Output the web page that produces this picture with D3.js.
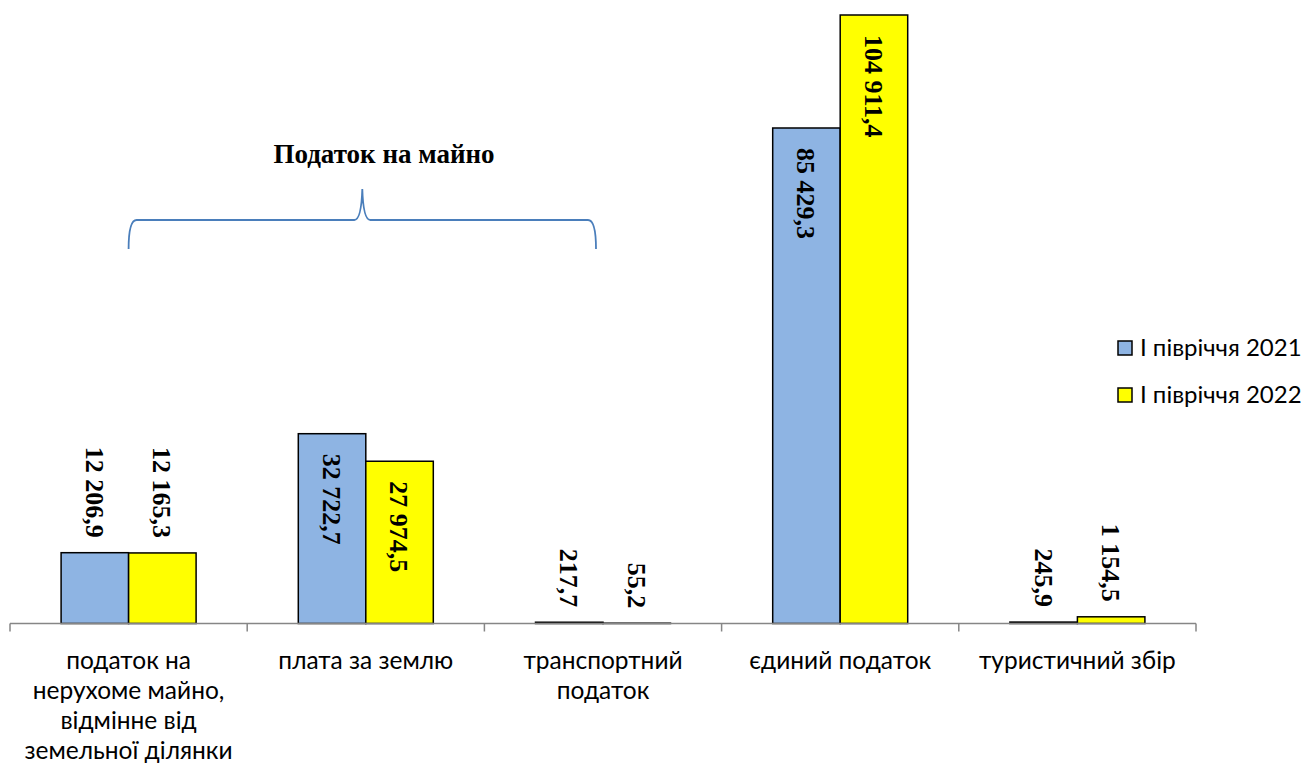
<!DOCTYPE html>
<html>
<head>
<meta charset="utf-8">
<script src="https://cdn.jsdelivr.net/npm/d3@7"></script>
<style>
  html, body { margin: 0; padding: 0; background: #fff; }
  svg { display: block; }
</style>
</head>
<body>
<svg id="chart" width="1316" height="766"></svg>
<script>
// Local budget revenues, thousand UAH
const categories = [
  ["податок на", "нерухоме майно,", "відмінне від", "земельної ділянки"],
  ["плата за землю"],
  ["транспортний", "податок"],
  ["єдиний податок"],
  ["туристичний збір"]
];
const seriesNames = ["І півріччя 2021", "І півріччя 2022"];
const values2021 = [12206.9, 32722.7, 217.7, 85429.3, 245.9];
const values2022 = [12165.3, 27974.5, 55.2, 104911.4, 1154.5];
const labels2021 = ["12 206,9", "32 722,7", "217,7", "85 429,3", "245,9"];
const labels2022 = ["12 165,3", "27 974,5", "55,2", "104 911,4", "1 154,5"];
const groupTitle = "Податок на майно";

const colors = ["#8EB4E3", "#FFFF00"];

const svg = d3.select("#chart");
const plot = { left: 10, right: 1196, top: 15, bottom: 623.5 };

const catKeys = categories.map((c, i) => i);
const x0 = d3.scaleBand().domain(catKeys).range([plot.left, plot.right]).paddingInner(0).paddingOuter(0);
const x1 = d3.scaleBand().domain([0, 1]).range([0, x0.bandwidth()]).paddingInner(0).paddingOuter(0.757);
const y = d3.scaleLinear().domain([0, 104911.4]).range([plot.bottom, plot.top]);

const rows = catKeys.map(i => ({
  i,
  bars: [
    { s: 0, v: values2021[i], label: labels2021[i] },
    { s: 1, v: values2022[i], label: labels2022[i] }
  ]
}));

// Bars
const groups = svg.append("g").selectAll("g").data(rows).join("g")
  .attr("transform", d => `translate(${x0(d.i)},0)`);

groups.selectAll("rect").data(d => d.bars).join("rect")
  .attr("x", d => x1(d.s))
  .attr("y", d => y(d.v))
  .attr("width", x1.bandwidth())
  .attr("height", d => plot.bottom - y(d.v))
  .attr("fill", d => colors[d.s])
  .attr("stroke", "#000")
  .attr("stroke-width", 1.5);

// Category axis
const axisG = svg.append("g").attr("transform", `translate(0,${plot.bottom})`);
axisG.append("line")
  .attr("x1", plot.left).attr("x2", plot.right)
  .attr("y1", 0).attr("y2", 0)
  .attr("stroke", "#868686").attr("stroke-width", 1.5);
const tickPos = catKeys.map(i => x0(i)).concat([plot.right]);
axisG.selectAll("line.tick").data(tickPos).join("line")
  .attr("class", "tick")
  .attr("x1", d => d).attr("x2", d => d)
  .attr("y1", 0).attr("y2", 8)
  .attr("stroke", "#868686").attr("stroke-width", 1.5);

const catText = svg.append("g").selectAll("text").data(rows).join("text")
  .attr("x", d => x0(d.i) + x0.bandwidth() / 2)
  .attr("y", 669)
  .attr("text-anchor", "middle")
  .attr("font-family", "Lato, 'Open Sans', sans-serif")
  .attr("font-size", 24.5)
  .attr("fill", "#000");
catText.selectAll("tspan").data(d => categories[d.i]).join("tspan")
  .attr("x", function () { return d3.select(this.parentNode).attr("x"); })
  .attr("dy", (d, k) => k === 0 ? 0 : 30)
  .text(d => d);

// Value labels, rotated to read downward
const insideMin = 20000;
groups.selectAll("text.val").data(d => d.bars).join("text")
  .attr("class", "val")
  .attr("transform", d => {
    const cx = x1(d.s) + x1.bandwidth() / 2;
    const top = y(d.v);
    const inside = d.v > insideMin;
    const yy = inside ? top + 20 : top - 15;
    return `translate(${cx},${yy}) rotate(90)`;
  })
  .attr("text-anchor", d => d.v > insideMin ? "start" : "end")
  .attr("dy", "0.35em")
  .attr("font-family", "'Liberation Serif', 'Times New Roman', serif")
  .attr("font-weight", "bold")
  .attr("font-size", 26)
  .attr("fill", "#000")
  .text(d => d.label);

// Brace over the property-tax group
const bL = x0(0) + x0.bandwidth() / 2;
const bR = x0(2) + x0.bandwidth() / 2 - 7;
const bM = (bL + bR) / 2;
const yBase = 249, yBar = 220, yPeak = 189;
const brace = d3.path();
brace.moveTo(bL, yBase);
brace.quadraticCurveTo(bL, yBar, bL + 8, yBar);
brace.lineTo(bM - 8, yBar);
brace.quadraticCurveTo(bM - 1, yBar, bM, yPeak);
brace.quadraticCurveTo(bM + 1, yBar, bM + 8, yBar);
brace.lineTo(bR - 8, yBar);
brace.quadraticCurveTo(bR, yBar, bR, yBase);
svg.append("path")
  .attr("d", brace.toString())
  .attr("fill", "none")
  .attr("stroke", "#4A7EBB")
  .attr("stroke-width", 1.8);

svg.append("text")
  .attr("x", 384).attr("y", 163)
  .attr("text-anchor", "middle")
  .attr("font-family", "'Liberation Serif', 'Times New Roman', serif")
  .attr("font-weight", "bold")
  .attr("font-size", 27)
  .attr("fill", "#000")
  .text(groupTitle);

// Legend
const legend = svg.append("g").selectAll("g").data(seriesNames).join("g")
  .attr("transform", (d, i) => `translate(1118,${341 + i * 47})`);
legend.append("rect")
  .attr("width", 14).attr("height", 14)
  .attr("fill", (d, i) => colors[i])
  .attr("stroke", "#000").attr("stroke-width", 1.5);
legend.append("text")
  .attr("x", 22).attr("y", 7)
  .attr("dy", "0.35em")
  .attr("font-family", "Lato, 'Open Sans', sans-serif")
  .attr("font-size", 24)
  .attr("fill", "#000")
  .text(d => d);
</script>
</body>
</html>
